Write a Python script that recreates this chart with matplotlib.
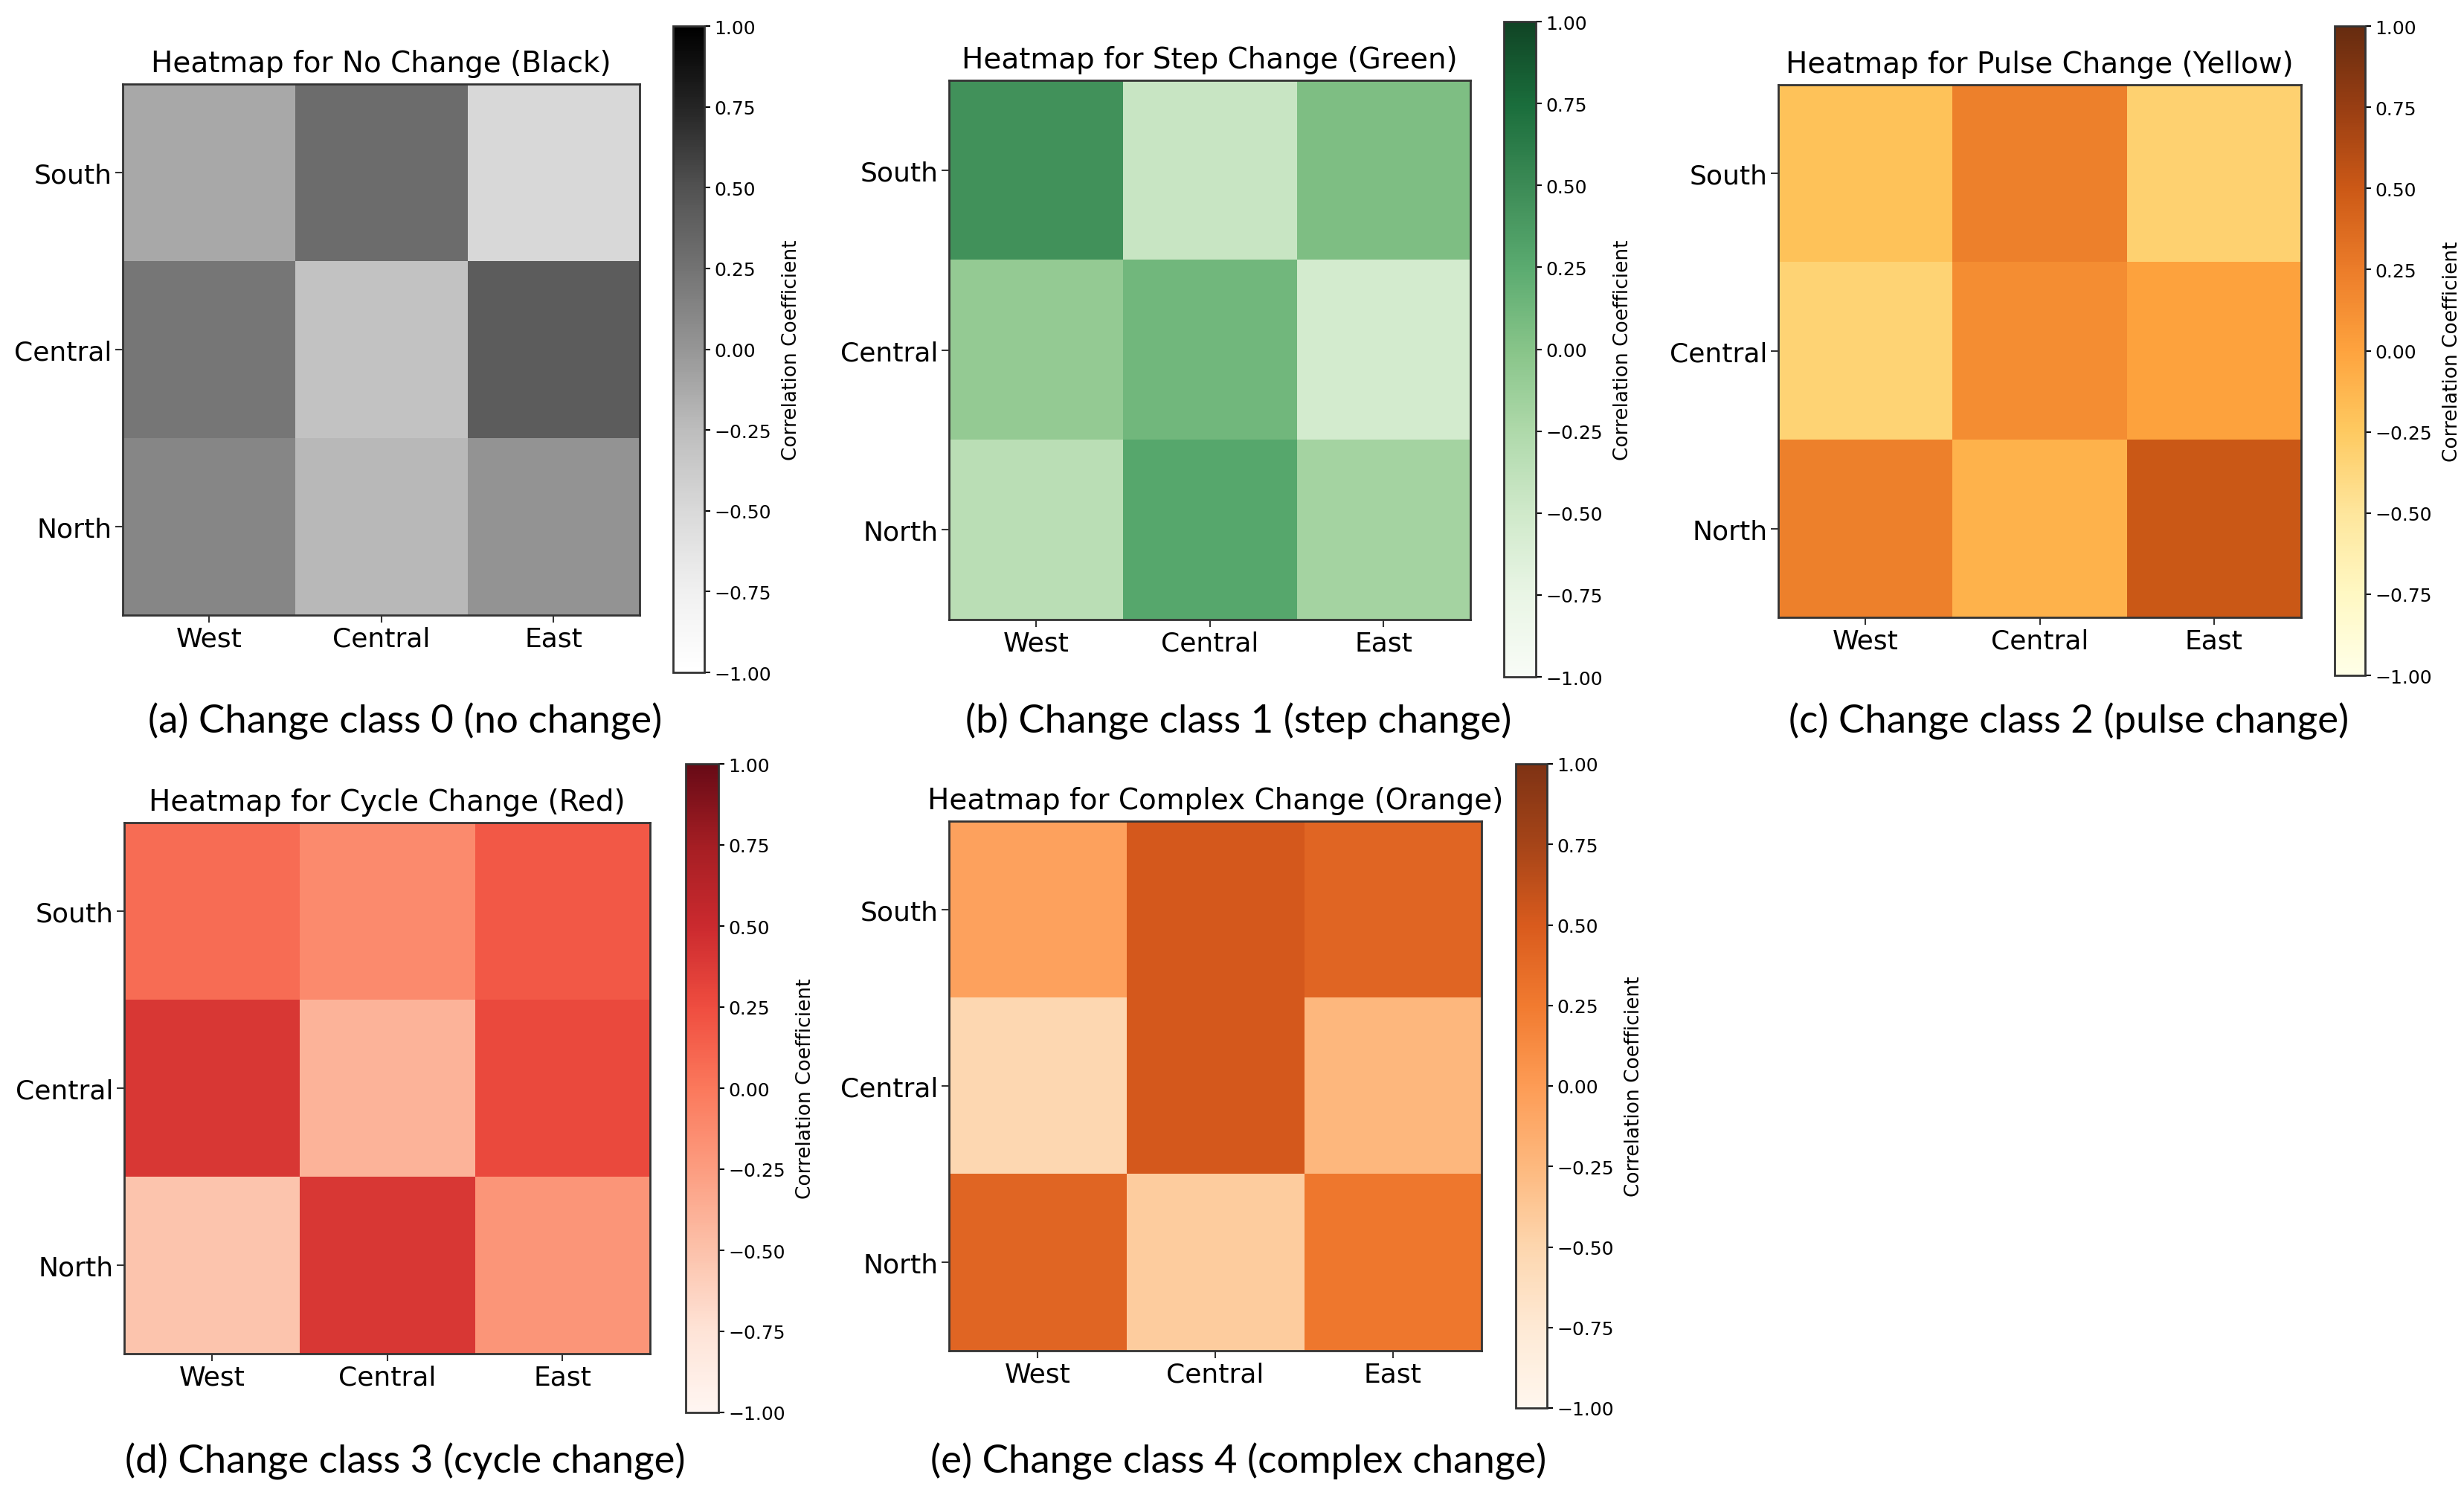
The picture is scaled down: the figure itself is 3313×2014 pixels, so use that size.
import matplotlib
matplotlib.use("Agg")
import matplotlib.pyplot as plt
from matplotlib.colors import ListedColormap, rgb_to_hsv, hsv_to_rgb
import numpy as np

# region labels
cols = ["West", "Central", "East"]
rows = ["South", "Central", "North"]

# correlation values (rows: South, Central, North)
no_change = [[-0.12, 0.30, -0.50],
             [0.22, -0.30, 0.42],
             [0.11, -0.22, 0.02]]
step_change = [[0.45, -0.45, 0.05],
               [-0.08, 0.12, -0.54],
               [-0.34, 0.28, -0.18]]
pulse_change = [[-0.20, 0.22, -0.32],
                [-0.33, 0.14, 0.00],
                [0.22, -0.10, 0.50]]
cycle_change = [[0.07, -0.12, 0.18],
                [0.40, -0.40, 0.28],
                [-0.52, 0.40, -0.20]]
complex_change = [[-0.05, 0.52, 0.42],
                  [-0.52, 0.52, -0.25],
                  [0.42, -0.42, 0.28]]

titles = ["Heatmap for No Change (Black)", "Heatmap for Step Change (Green)",
          "Heatmap for Pulse Change (Yellow)", "Heatmap for Cycle Change (Red)",
          "Heatmap for Complex Change (Orange)"]
captions = ["(a) Change class 0 (no change)", "(b) Change class 1 (step change)",
            "(c) Change class 2 (pulse change)", "(d) Change class 3 (cycle change)",
            "(e) Change class 4 (complex change)"]
cmaps = ["Greys", "Greens", "YlOrBr", "Reds", "Oranges"]
# the screenshot colours look a bit washed out
saturation = [1.0, 0.76, 0.9, 0.9, 0.87]
datas = [no_change, step_change, pulse_change, cycle_change, complex_change]

W, H = 3313, 2015

# pixel boxes (left, top, right, bottom) for heatmap and colorbar
heat_boxes = [(165, 114, 860, 828), (1276, 109, 1977, 834), (2391, 115, 3094, 831),
              (167, 1107, 874, 1821), (1276, 1105, 1992, 1817)]
cbar_boxes = [(905, 36, 947, 905), (2022, 30, 2065, 911), (3139, 36, 3180, 909),
              (922, 1028, 966, 1900), (2038, 1028, 2080, 1894)]
caption_pos = [(545, 970), (1665, 970), (2782, 970), (545, 1965), (1665, 1965)]


def frac(box):
    l, t, r, b = box
    return [l / W, 1 - b / H, (r - l) / W, (b - t) / H]


def muted(name, factor):
    rgb = plt.get_cmap(name)(np.linspace(0, 1, 256))[:, :3]
    hsv = rgb_to_hsv(rgb)
    hsv[:, 1] *= factor
    return ListedColormap(hsv_to_rgb(hsv))


fig = plt.figure(figsize=(W / 100, H / 100), dpi=100)

for i in range(5):
    ax = fig.add_axes(frac(heat_boxes[i]))
    im = ax.imshow(np.array(datas[i]), cmap=muted(cmaps[i], saturation[i]),
                   vmin=-1, vmax=1, aspect="auto")
    ax.set_xticks(range(3))
    ax.set_xticklabels(cols, fontsize=26)
    ax.set_yticks(range(3))
    ax.set_yticklabels(rows, fontsize=26)
    ax.tick_params(length=7, width=1.5, color="#333333")
    for s in ax.spines.values():
        s.set_color("#333333")
        s.set_linewidth(2)
    ax.set_title(titles[i], fontsize=28, pad=12)

    cax = fig.add_axes(frac(cbar_boxes[i]))
    cb = fig.colorbar(im, cax=cax)
    cb.set_ticks([-1, -0.75, -0.5, -0.25, 0, 0.25, 0.5, 0.75, 1])
    cb.set_ticklabels(["\u22121.00", "\u22120.75", "\u22120.50", "\u22120.25", "0.00",
                       "0.25", "0.50", "0.75", "1.00"])
    cb.ax.tick_params(labelsize=18, length=6, width=1.5)
    cb.outline.set_edgecolor("#333333")
    cb.outline.set_linewidth(2)
    cb.set_label("Correlation Coefficient", fontsize=19, labelpad=10)

    x, y = caption_pos[i]
    fig.text(x / W, 1 - y / H, captions[i], fontsize=38, family="Lato",
             ha="center", va="center")

fig.savefig("out.png", dpi=100)
